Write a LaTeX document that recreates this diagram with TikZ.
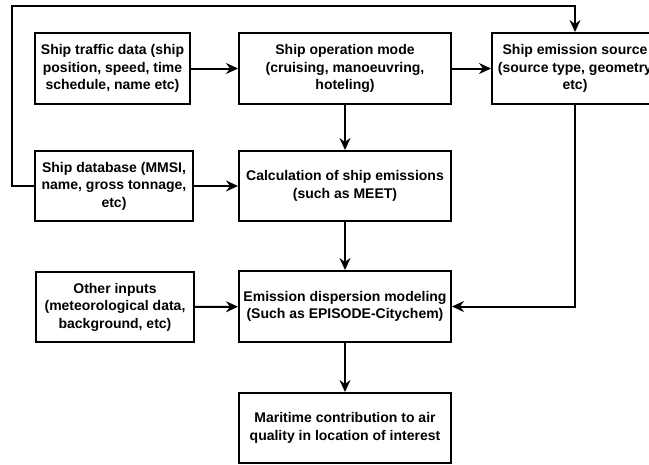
\documentclass[tikz,border=0pt]{standalone}
\usepackage{fontspec}
\setmainfont{Liberation Sans}
\usetikzlibrary{arrows.meta}

\tikzset{
  box/.style={draw, line width=2pt, align=center, inner sep=0pt,
    font=\bfseries\fontsize{14}{17.5}\selectfont},
  arr/.style={-{Stealth[length=12pt,width=11pt,inset=4pt]}, line width=2pt},
}

\begin{document}
\begin{tikzpicture}[x=1pt,y=-1pt]
\useasboundingbox (0,0) rectangle (649,464);

% top row
\node[box, minimum width=155pt, minimum height=71pt] (traffic) at (112.5,68.5) {Ship traffic data (ship\\position, speed, time\\schedule, name etc)};
\node[box, minimum width=212pt, minimum height=71pt] (opmode) at (345,68.5) {Ship operation mode\\(cruising, manoeuvring,\\hoteling)};
\node[box, minimum width=166pt, minimum height=71pt] (source) at (575,68.5) {Ship emission source\\(source type, geometry\\etc)};

% middle rows
\node[box, minimum width=158pt, minimum height=70pt] (database) at (114,186) {Ship database (MMSI,\\name, gross tonnage,\\etc)};
\node[box, minimum width=212pt, minimum height=70pt] (calc) at (345,186) {Calculation of ship emissions\\(such as MEET)};

\node[box, minimum width=158pt, minimum height=70pt] (other) at (115,307) {Other inputs\\(meteorological data,\\background, etc)};
\node[box, minimum width=212pt, minimum height=71pt] (dispersion) at (345,306.5) {Emission dispersion modeling\\(Such as EPISODE-Citychem)};

% result
\node[box, minimum width=212pt, minimum height=70pt] (result) at (345,428) {Maritime contribution to air\\quality in location of interest};

\coordinate (loop) at (12,6);

\draw[arr] (traffic) -- (opmode);
\draw[arr] (opmode) -- (source);
\draw[arr] (opmode) -- (calc);
\draw[arr] (database) -- (calc);
\draw[arr] (calc) -- (dispersion);
\draw[arr] (other) -- (dispersion);
\draw[arr] (dispersion) -- (result);
\draw[arr] (source.south) |- (dispersion.east);
\draw[arr] (database.west) -| (loop) -| (source.north);

\end{tikzpicture}
\end{document}
